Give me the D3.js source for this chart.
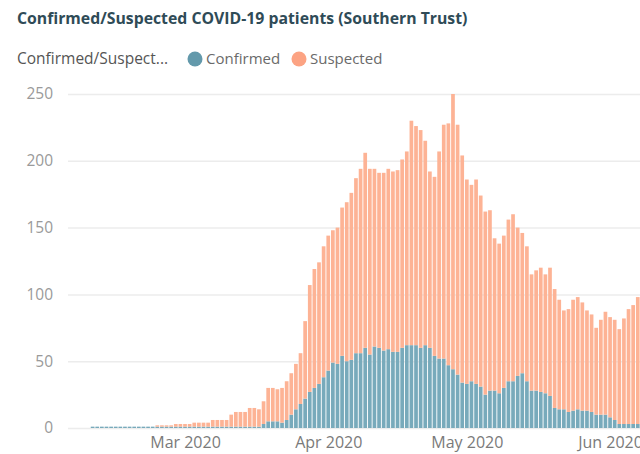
<!DOCTYPE html>
<html lang="en">
<head>
    <meta charset="UTF-8">
    <title>Southern Trust</title>
    <style>
        body { margin: 0; background: #fff; }
        text { font-family: "Open Sans", "Segoe UI", sans-serif; }
        .grid line { stroke: #ececec; stroke-width: 1.5; }
        .grid path { display: none; }
        .ylab text { fill: #9a9a9a; font-size: 15.5px; }
        .xlab text { fill: #7a7a7a; font-size: 16px; }
    </style>
</head>
<body>
<script src="https://d3js.org/d3.v7.min.js"></script>
<script>
    const width = 640;
    const height = 454;

    // daily values from 10 Feb 2020
    const startDay = new Date(2020, 1, 10);
    const confirmed = [
        1, 1, 1, 1, 1, 1, 1, 1, 1, 1, 1, 1, 1, 1,
        1, 1, 1, 1, 1, 1, 1, 1, 1, 1, 1, 1, 1, 1, 1, 1, 1, 1, 1, 1, 1, 1, 1,
        3, 5, 5, 5, 4, 6, 10, 14, 18, 22, 27, 30, 33, 38, 43,
        49, 48, 54, 50, 51, 56, 56, 60, 55, 61, 60, 58, 59, 57, 57,
        60, 62, 62, 62, 60, 62, 60, 54, 52, 52, 47, 44, 40, 34, 33,
        35, 33, 31, 25, 28, 28, 26, 30, 35, 35, 39, 41, 35, 28, 28,
        27, 26, 24, 15, 14, 14, 12, 13, 14, 13, 13, 12, 10, 10, 10,
        8, 6, 3, 3, 3, 3, 3
    ];
    const suspected = [
        0, 0, 0, 0, 0, 0, 0, 0, 0, 0, 0, 0, 0, 0,
        1, 1, 1, 1, 2, 2, 2, 2, 3, 3, 3, 3, 5, 5, 5, 5, 9, 11, 11, 11, 14, 14, 13,
        17, 25, 25, 24, 26, 29, 31, 34, 38, 58, 80, 89, 91, 98, 101,
        99, 102, 111, 119, 125, 131, 138, 146, 139, 133, 131, 133, 135, 135, 136,
        141, 145, 168, 164, 163, 153, 132, 134, 155, 175, 181, 206, 187, 170, 153,
        147, 153, 143, 137, 135, 114, 112, 114, 121, 125, 111, 105, 101, 87, 90,
        93, 89, 96, 89, 82, 74, 77, 83, 84, 81, 75, 73, 65, 71, 77,
        75, 75, 71, 79, 86, 89, 95
    ];
    const seriesNames = ['Confirmed', 'Suspected'];
    const colors = ['#78aabb', '#fdb395'];
    const legendColors = ['#6399ab', '#fca383'];
    const yTicks = [0, 50, 100, 150, 200, 250];
    const xTicks = [new Date(2020, 2, 1), new Date(2020, 3, 1), new Date(2020, 4, 1), new Date(2020, 5, 1)];

    const rows = confirmed.map((c, i) => ({
        date: d3.timeDay.offset(startDay, i),
        Confirmed: c,
        Suspected: suspected[i]
    }));

    const svg = d3.select('body').append('svg').attr('width', width).attr('height', height);

    const x = d3.scaleTime()
        .domain([new Date(2020, 1, 9), new Date(2020, 5, 9)])
        .range([88, 88 + 121 * 4.62]);
    const y = d3.scaleLinear().domain([0, 250]).range([428, 94]);

    // title + legend
    svg.append('text').attr('x', 17).attr('y', 24)
        .attr('font-size', 15.8).attr('font-weight', 700).attr('fill', '#2f4b57')
        .text('Confirmed/Suspected COVID-19 patients (Southern Trust)');

    svg.append('text').attr('x', 17).attr('y', 64)
        .attr('font-size', 15.5).attr('fill', '#555')
        .text('Confirmed/Suspect...');

    const legX = [195, 299];
    seriesNames.forEach((name, i) => {
        svg.append('circle').attr('cx', legX[i]).attr('cy', 59).attr('r', 7.5).attr('fill', legendColors[i]);
        svg.append('text').attr('x', legX[i] + 11).attr('y', 64)
            .attr('font-size', 15).attr('fill', '#6a6a6a').text(name);
    });

    // gridlines and y labels
    svg.append('g').attr('class', 'grid')
        .attr('transform', 'translate(68,0)')
        .call(d3.axisLeft(y).tickValues(yTicks).tickSize(-(width - 68)).tickFormat(''))
        .call(g => g.select('.domain').remove());

    svg.append('g').attr('class', 'ylab')
        .attr('transform', 'translate(53,0)')
        .call(d3.axisLeft(y).tickValues(yTicks).tickSize(0).tickPadding(0))
        .call(g => g.select('.domain').remove());

    // bars
    const stack = d3.stack().keys(seriesNames)(rows);
    const bw = 3.7;
    svg.append('g').selectAll('g').data(stack).join('g')
        .attr('fill', (d, i) => colors[i])
        .selectAll('rect').data(d => d).join('rect')
        .attr('x', d => x(d.data.date) - bw / 2)
        .attr('width', bw)
        .attr('y', d => y(d[1]))
        .attr('height', d => y(d[0]) - y(d[1]));

    // x labels
    svg.append('g').attr('class', 'xlab')
        .attr('transform', 'translate(0,435)')
        .call(d3.axisBottom(x).tickValues(xTicks).tickSize(0).tickPadding(2).tickFormat(d3.timeFormat('%b %Y')))
        .call(g => g.select('.domain').remove());
</script>
</body>
</html>
